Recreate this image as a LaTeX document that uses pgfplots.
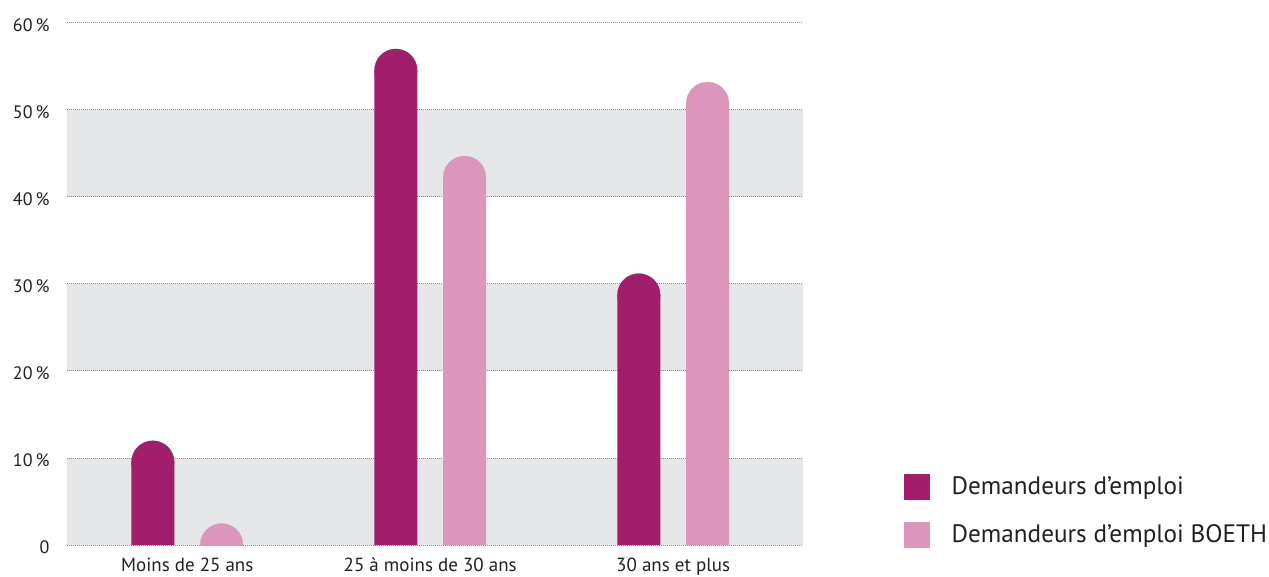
\documentclass[border=0pt]{standalone}
\usepackage{fontspec}
\setmainfont{PT Sans}
\usepackage{pgfplots}
\pgfplotsset{compat=1.18}
\usepackage{pgfplotstable}

\definecolor{prune}{RGB}{162,29,107}
\definecolor{rose}{RGB}{220,150,187}
\definecolor{bande}{RGB}{229,230,232}
\definecolor{texte}{RGB}{35,31,32}

% valeurs en % (sommet de la barre arrondie)
\pgfplotstableread{
x v
0 12.0
1 57.0
2 31.2
}\demandeurs
\pgfplotstableread{
x v
0 2.2
1 44.7
2 53.2
}\boeth

\pgfplotsset{
  barre/.style={ybar, bar width=21.5pt, bar shift=0pt, draw=none, fill=#1,
    mark=*, mark size=10.7pt, mark options={draw=#1, fill=#1, line width=0.1pt},
    legend image code/.code={\fill[#1] (0pt,-6.5pt) rectangle (13pt,6.5pt);}},
}

\begin{document}
\begin{tikzpicture}
\begin{axis}[
  set layers,
  scale only axis,
  width=368pt, height=261.2pt,
  xmin=-0.496, xmax=2.533,
  ymin=0, ymax=60,
  axis line style={draw=none},
  major tick length=0pt,
  xtick={0,1,2},
  xticklabels={Moins de 25 ans, 25 à moins de 30 ans, 30 ans et plus},
  ytick={0,10,20,30,40,50,60},
  yticklabels={0,10\,\%,20\,\%,30\,\%,40\,\%,50\,\%,60\,\%},
  ymajorgrids,
  major grid style={draw=gray!90, line width=0.5pt, dash pattern=on 0.5pt off 0.5pt},
  clip marker paths=true,
  tick label style={font=\fontsize{9}{10}\selectfont, text=texte, inner sep=0pt},
  yticklabel style={anchor=base east, xshift=-8.4pt, yshift=-4.2pt},
  xticklabel style={anchor=base, yshift=-13.3pt, font=\fontsize{9.5}{10}\selectfont},
  legend style={at={(1.1376,0.136)}, anchor=north west, draw=none, fill=none,
    inner sep=0pt, outer sep=0pt, row sep=11pt, column sep=10.85pt,
    font=\fontsize{12.6}{14}\selectfont, text=texte,
    nodes={inner sep=0pt}},
  legend cell align=left,
]
\begin{pgfonlayer}{axis background}
  \fill[bande] (rel axis cs:0,0) rectangle (rel axis cs:1,0.16667);
  \fill[bande] (rel axis cs:0,0.33333) rectangle (rel axis cs:1,0.5);
  \fill[bande] (rel axis cs:0,0.66667) rectangle (rel axis cs:1,0.83333);
\end{pgfonlayer}
\addplot[barre=prune] table[x expr=\thisrow{x}-0.1415, y expr={max(\thisrow{v}-2.47,0.02)}]{\demandeurs};
\addlegendentry{Demandeurs d’emploi}
\addplot[barre=rose] table[x expr=\thisrow{x}+0.1415, y expr={max(\thisrow{v}-2.47,0.02)}]{\boeth};
\addlegendentry{Demandeurs d’emploi BOETH}
\end{axis}
\pgfresetboundingbox
\path ([xshift=-33.35pt,yshift=-15.5pt]current axis.south west)
  rectangle ([xshift=233.15pt,yshift=11.35pt]current axis.north east);
\end{tikzpicture}
\end{document}
